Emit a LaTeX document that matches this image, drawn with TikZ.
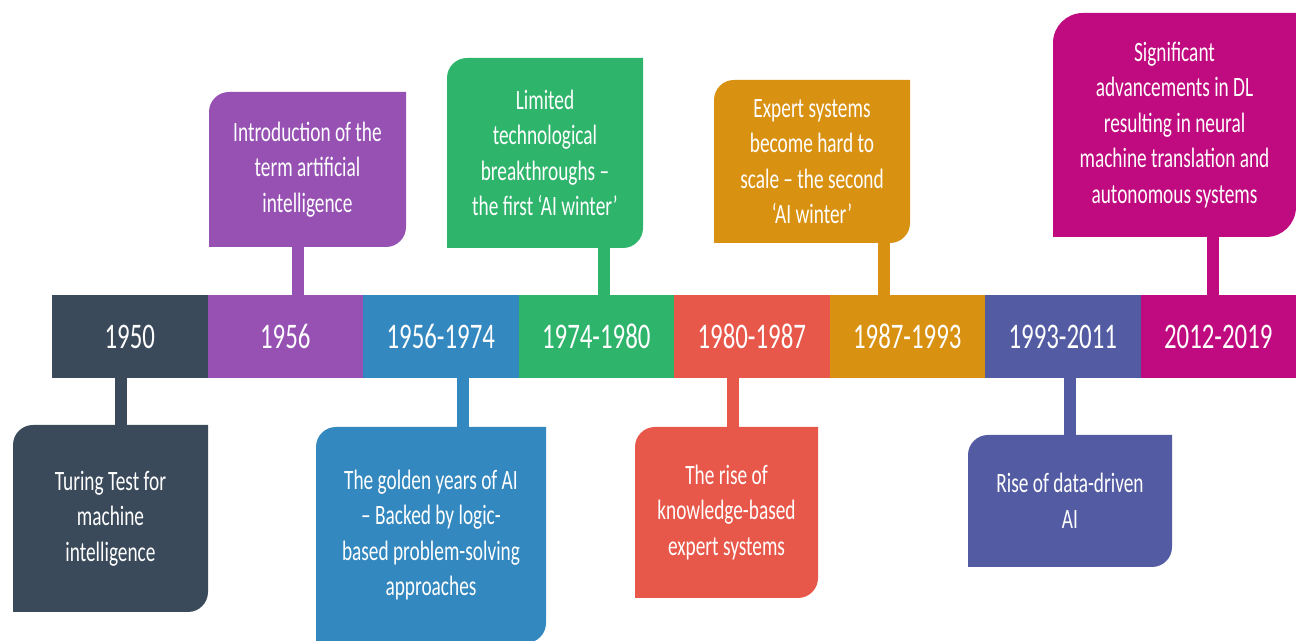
\documentclass[tikz,border=0pt]{standalone}
\usepackage{fontspec}
\setmainfont{Carlito}[FakeStretch=0.69]
\usepackage{tikz}
\usetikzlibrary{positioning,backgrounds}
\definecolor{TLSlate}{HTML}{3A4A5B}
\definecolor{TLPurple}{HTML}{9651B3}
\definecolor{TLBlue}{HTML}{3388C0}
\definecolor{TLGreen}{HTML}{2FB46C}
\definecolor{TLRed}{HTML}{E8584A}
\definecolor{TLOrange}{HTML}{D99112}
\definecolor{TLIndigo}{HTML}{535CA3}
\definecolor{TLMagenta}{HTML}{C00A80}

% tab behind an event node: top left and bottom right corners rounded
\newcommand\tabfill[3][10pt]{%
  \fill[#3] ([xshift=#1]#2.north west) arc[start angle=90,end angle=180,radius=#1]
    -- (#2.south west) -- ([xshift=-#1]#2.south east)
    arc[start angle=270,end angle=360,radius=#1] -- (#2.north east) -- cycle;}

\begin{document}
\begin{tikzpicture}[
 x=0.5pt,y=0.5pt,
 node distance=0pt,
 year/.style={fill=#1,minimum width=77.75pt,minimum height=41.5pt,inner sep=0pt,outer sep=0pt,font=\fontsize{18}{20}\selectfont,text=white},
 event/.style={inner sep=0pt,outer sep=0pt,align=center,font=\fontsize{14}{17.75}\selectfont,text=white},
 stem/.style={line width=6pt,draw=#1}
]
\useasboundingbox (0,0) rectangle (1296,641);

% the bar of periods
\node[year=TLSlate] (y1950) at (129.75,304.5) {1950};
\node[year=TLPurple,right=of y1950] (y1956) {1956};
\node[year=TLBlue,right=of y1956] (y1956b) {1956-1974};
\node[year=TLGreen,right=of y1956b] (y1974) {1974-1980};
\node[year=TLRed,right=of y1974] (y1980) {1980-1987};
\node[year=TLOrange,right=of y1980] (y1987) {1987-1993};
\node[year=TLIndigo,right=of y1987] (y1993) {1993-2011};
\node[year=TLMagenta,right=of y1993] (y2012) {2012-2019};

% events below the bar
\node[event,minimum width=97.5pt,minimum height=93.5pt] (t1950) at (110.5,122.5) {Turing Test for\\machine\\intelligence};
\node[event,minimum width=115pt,minimum height=108pt] (t1956b) at (431,106) {The golden years of AI\\– Backed by logic-\\based problem-solving\\approaches};
\node[event,minimum width=91.5pt,minimum height=85.5pt] (t1980) at (726.5,128.5) {The rise of\\knowledge-based\\expert systems};
\node[event,minimum width=102pt,minimum height=66pt] (t1993) at (1070,140) {Rise of data-driven\\AI};

% events above the bar
\node[event,minimum width=98.5pt,minimum height=77.5pt] (t1956) at (307.5,471.5) {Introduction of the\\term artificial\\intelligence};
\node[event,minimum width=98pt,minimum height=95pt] (t1974) at (545,488) {Limited\\technological\\breakthroughs –\\the first ‘AI winter’};
\node[event,minimum width=98pt,minimum height=81.5pt] (t1987) at (812,479.5) {Expert systems\\become hard to\\scale – the second\\‘AI winter’};
\node[event,minimum width=121.5pt,minimum height=112pt] (t2012) at (1174.5,516) {Significant\\advancements in DL\\resulting in neural\\machine translation and\\autonomous systems};

\begin{scope}[on background layer]
\foreach \n/\c in {t1950/TLSlate,t1956/TLPurple,t1956b/TLBlue,t1974/TLGreen,t1980/TLRed,t1987/TLOrange,t1993/TLIndigo}
  \tabfill{\n}{\c};
\tabfill[15pt]{t2012}{TLMagenta}
\end{scope}

% stems from the tabs to the bar
\draw[stem=TLSlate] ([xshift=5.25pt]t1950.north) -- ([xshift=5.25pt]t1950.north |- y1950.south);
\draw[stem=TLPurple] ([xshift=-4.75pt]t1956.south) -- ([xshift=-4.75pt]t1956.south |- y1956.north);
\draw[stem=TLBlue] ([xshift=16pt]t1956b.north) -- ([xshift=16pt]t1956b.north |- y1956b.south);
\draw[stem=TLGreen] ([xshift=29.5pt]t1974.south) -- ([xshift=29.5pt]t1974.south |- y1974.north);
\draw[stem=TLRed] ([xshift=3.25pt]t1980.north) -- ([xshift=3.25pt]t1980.north |- y1980.south);
\draw[stem=TLOrange] ([xshift=36pt]t1987.south) -- ([xshift=36pt]t1987.south |- y1987.north);
\draw[stem=TLIndigo] (t1993.north) -- (t1993.north |- y1993.south);
\draw[stem=TLMagenta] ([xshift=19.25pt]t2012.south) -- ([xshift=19.25pt]t2012.south |- y2012.north);
\end{tikzpicture}
\end{document}
